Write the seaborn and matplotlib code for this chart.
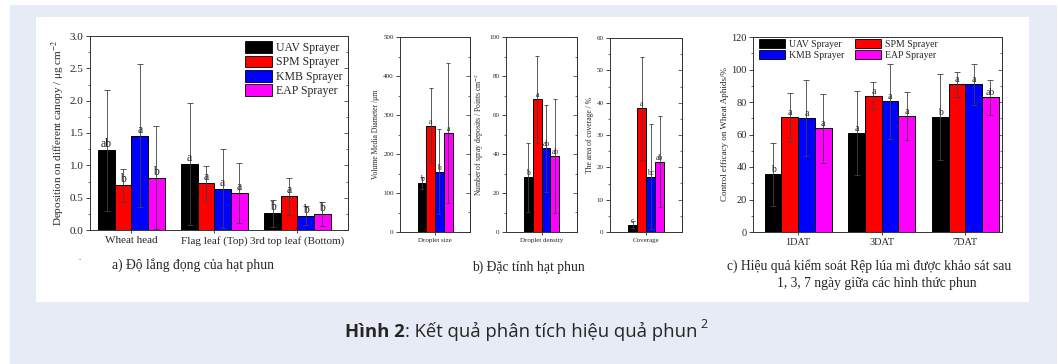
import numpy as np
import pandas as pd
import matplotlib
matplotlib.use("Agg")
import matplotlib.pyplot as plt
import seaborn as sns
from matplotlib.patches import Rectangle, Patch
from matplotlib.container import BarContainer
from matplotlib.ticker import MultipleLocator, FormatStrFormatter

# ---------------- data ----------------
sprayers = ["UAV Sprayer", "SPM Sprayer", "KMB Sprayer", "EAP Sprayer"]
colors = ["#000000", "#FF0000", "#0000FF", "#FF00FF"]

# (a) deposition
a_categories = ["Wheat head", "Flag leaf (Top)", "3rd top leaf (Bottom)"]
a_uav = [1.23, 1.02, 0.26]
a_spm = [0.69, 0.72, 0.52]
a_kmb = [1.46, 0.64, 0.22]
a_eap = [0.81, 0.57, 0.25]
a_err_uav = [0.94, 0.94, 0.21]
a_err_spm = [0.26, 0.27, 0.29]
a_err_kmb = [1.10, 0.61, 0.15]
a_err_eap = [0.80, 0.46, 0.19]
a_let_uav = ["ab", "a", "b"]
a_let_spm = ["b", "a", "a"]
a_let_kmb = ["a", "a", "b"]
a_let_eap = ["b", "a", "b"]

# (b) droplet characteristics (order: UAV, SPM, KMB, EAP)
b_size = [125, 272, 155, 254]
b_size_err = [16, 96, 110, 180]
b_size_let = ["b", "a", "b", "a"]
b_density = [28, 68, 43, 39]
b_density_err = [17.5, 22.5, 22.3, 29]
b_density_let = ["b", "a", "ab", "ab"]
b_coverage = [2.3, 38.2, 17.1, 21.8]
b_coverage_err = [1.2, 15.8, 16.2, 14.2]
b_coverage_let = ["c", "a", "bc", "ab"]

# (c) control efficacy
c_categories = ["1DAT", "3DAT", "7DAT"]
c_uav = [35.5, 61.0, 71.0]
c_spm = [70.5, 84.0, 90.8]
c_kmb = [70.2, 80.5, 90.8]
c_eap = [63.8, 71.3, 83.0]
c_err_uav = [19.5, 26.0, 26.5]
c_err_spm = [15.3, 8.5, 7.7]
c_err_kmb = [23.5, 23.0, 12.7]
c_err_eap = [21.3, 14.7, 10.8]
c_let_uav = ["b", "a", "b"]
c_let_spm = ["a", "a", "a"]
c_let_kmb = ["a", "a", "a"]
c_let_eap = ["a", "a", "ab"]

# ---------------- style ----------------
sns.set_style("ticks")
plt.rcParams["font.family"] = ["Liberation Serif", "DejaVu Serif"]
plt.rcParams["mathtext.fontset"] = "stix"
plt.rcParams["axes.linewidth"] = 0.7

W, H = 1058, 364
fig = plt.figure(figsize=(W / 100, H / 100), dpi=100)
fig.patch.set_facecolor("white")
fig.patches.append(Rectangle((10 / W, 0), (1057 - 10) / W, (H - 5) / H,
                             transform=fig.transFigure, facecolor="#E7EBF6",
                             edgecolor="none", zorder=-10))
fig.patches.append(Rectangle((36 / W, (H - 302) / H), (1029 - 36) / W, (302 - 17) / H,
                             transform=fig.transFigure, facecolor="white",
                             edgecolor="none", zorder=-9))


def px_axes(x0, x1, y0, y1):
    return fig.add_axes([x0 / W, (H - y1) / H, (x1 - x0) / W, (y1 - y0) / H])


def draw(ax, categories, vals, errs, lets, width, fs_letter, fs_tick,
         ylim, major, minor, ylabel, fs_label, xlim, cap=2.0):
    rows = []
    for s, v in zip(sprayers, vals):
        for c, val in zip(categories, v):
            rows.append({"cat": c, "sprayer": s, "val": val})
    df = pd.DataFrame(rows)
    sns.barplot(data=df, x="cat", y="val", hue="sprayer", order=categories,
                hue_order=sprayers, palette=colors, saturation=1, width=width,
                edgecolor="black", linewidth=0.7, errorbar=None, legend=False, ax=ax)
    bar_conts = [c for c in ax.containers if isinstance(c, BarContainer)]
    for i, cont in enumerate(bar_conts):
        for j, bar in enumerate(cont.patches):
            x = bar.get_x() + bar.get_width() / 2
            h = bar.get_height()
            ax.errorbar(x, h, yerr=errs[i][j], fmt="none", ecolor="#404040",
                        elinewidth=0.6, capsize=cap, capthick=0.6, zorder=5)
            ax.text(x, h, lets[i][j], ha="center", va="bottom",
                    fontsize=fs_letter, color="#222222", zorder=6)
    ax.set_ylim(*ylim)
    ax.set_xlim(*xlim)
    ax.yaxis.set_major_locator(MultipleLocator(major))
    ax.yaxis.set_minor_locator(MultipleLocator(minor))
    ax.tick_params(axis="y", which="major", direction="out", length=3, width=0.6,
                   labelsize=fs_tick, pad=1.5)
    ax.tick_params(axis="y", which="minor", direction="out", length=1.8, width=0.5)
    ax.tick_params(axis="x", which="major", direction="out", length=2.5, width=0.6,
                   labelsize=fs_tick, pad=1.5)
    sec = ax.secondary_yaxis("right")
    sec.yaxis.set_major_locator(MultipleLocator(major))
    sec.yaxis.set_minor_locator(MultipleLocator(minor))
    sec.tick_params(which="both", direction="in", labelright=False, width=0.5)
    sec.tick_params(which="major", length=3)
    sec.tick_params(which="minor", length=1.8)
    sec.spines["right"].set_linewidth(0.7)
    for sp in ax.spines.values():
        sp.set_visible(True)
        sp.set_linewidth(0.7)
        sp.set_color("#333333")
    ax.set_xlabel("")
    ax.set_ylabel(ylabel, fontsize=fs_label, labelpad=2)


# (a)
ax_a = px_axes(90, 348, 36, 230)
draw(ax_a, a_categories, [a_uav, a_spm, a_kmb, a_eap],
     [a_err_uav, a_err_spm, a_err_kmb, a_err_eap],
     [a_let_uav, a_let_spm, a_let_kmb, a_let_eap],
     0.8, 8.5, 8, (0, 3.0), 0.5, 0.25,
     "Deposition on different canopy / μg cm$^{-2}$", 8, (-0.5, 2.61))
ax_a.yaxis.set_major_formatter(FormatStrFormatter("%.1f"))
handles = [Patch(facecolor=c, edgecolor="black", linewidth=0.6) for c in colors]
ax_a.legend(handles, sprayers, loc="upper right", frameon=False, fontsize=8.5,
            handlelength=2.3, handleheight=1.15, labelspacing=0.12,
            handletextpad=0.35, borderaxespad=0.25, borderpad=0.2)

# (b)
ax_b1 = px_axes(400, 470, 37, 232)
draw(ax_b1, ["Droplet size"], [[v] for v in b_size], [[e] for e in b_size_err],
     [[l] for l in b_size_let], 1.0, 5.5, 5, (0, 500), 100, 50,
     "Volume Media Diameter /μm", 5.5, (-1, 1), cap=1.5)
ax_b2 = px_axes(506, 577, 37, 232)
draw(ax_b2, ["Droplet density"], [[v] for v in b_density], [[e] for e in b_density_err],
     [[l] for l in b_density_let], 1.0, 5.5, 5, (0, 100), 20, 10,
     "Number of spray deposits / Points cm$^{-2}$", 5.5, (-1, 1), cap=1.5)
ax_b3 = px_axes(610, 682, 38, 232)
draw(ax_b3, ["Coverage"], [[v] for v in b_coverage], [[e] for e in b_coverage_err],
     [[l] for l in b_coverage_let], 1.0, 5.5, 5, (0, 60), 10, 5,
     "The area of coverage / %", 5.5, (-1, 1), cap=1.5)

# (c)
ax_c = px_axes(753, 1002, 37, 232)
draw(ax_c, c_categories, [c_uav, c_spm, c_kmb, c_eap],
     [c_err_uav, c_err_spm, c_err_kmb, c_err_eap],
     [c_let_uav, c_let_spm, c_let_kmb, c_let_eap],
     0.8, 7, 7.5, (0, 120), 20, 10,
     "Control efficacy on Wheat Aphids/%", 6.5, (-0.54, 2.44))
order = [0, 2, 1, 3]
ax_c.legend([handles[i] for i in order], [sprayers[i] for i in order],
            loc="upper left", bbox_to_anchor=(0.015, 1.0), ncol=2, frameon=False,
            fontsize=7, handlelength=2.7, handleheight=1.1, labelspacing=0.1,
            handletextpad=0.4, columnspacing=1.1, borderaxespad=0.1, borderpad=0.1)

# captions
def ftext(x, y, s, **kw):
    return fig.text(x / W, 1 - y / H, s, **kw)

ftext(80, 258, ".", fontsize=6, ha="center", va="center")
ftext(193, 265, "a) Độ lắng đọng của hạt phun", fontsize=9.8, ha="center", va="center")
ftext(528, 267, "b) Đặc tính hạt phun", fontsize=9.8, ha="center", va="center")
ftext(869, 266, "c) Hiệu quả kiểm soát Rệp lúa mì được khảo sát sau",
      fontsize=9.8, ha="center", va="center")
ftext(877, 284, "1, 3, 7 ngày giữa các hình thức phun", fontsize=9.8,
      ha="center", va="center")

# main caption built piece by piece
renderer = fig.canvas.get_renderer()
cap_font = ["Open Sans", "DejaVu Sans"]
t1 = ftext(345, 337, "Hình 2", fontsize=13.3, fontweight="bold", family=cap_font,
           ha="left", va="baseline")
bb = t1.get_window_extent(renderer)
t2 = fig.text(bb.x1 / W, 1 - 337 / H, ": Kết quả phân tích hiệu quả phun ", fontsize=13.3,
              family=cap_font, ha="left", va="baseline")
bb2 = t2.get_window_extent(renderer)
fig.text((bb2.x1 - 2) / W, 1 - 328 / H, "2", fontsize=9, family=cap_font,
         ha="left", va="baseline")

fig.savefig("out.png", dpi=100, facecolor="white")
